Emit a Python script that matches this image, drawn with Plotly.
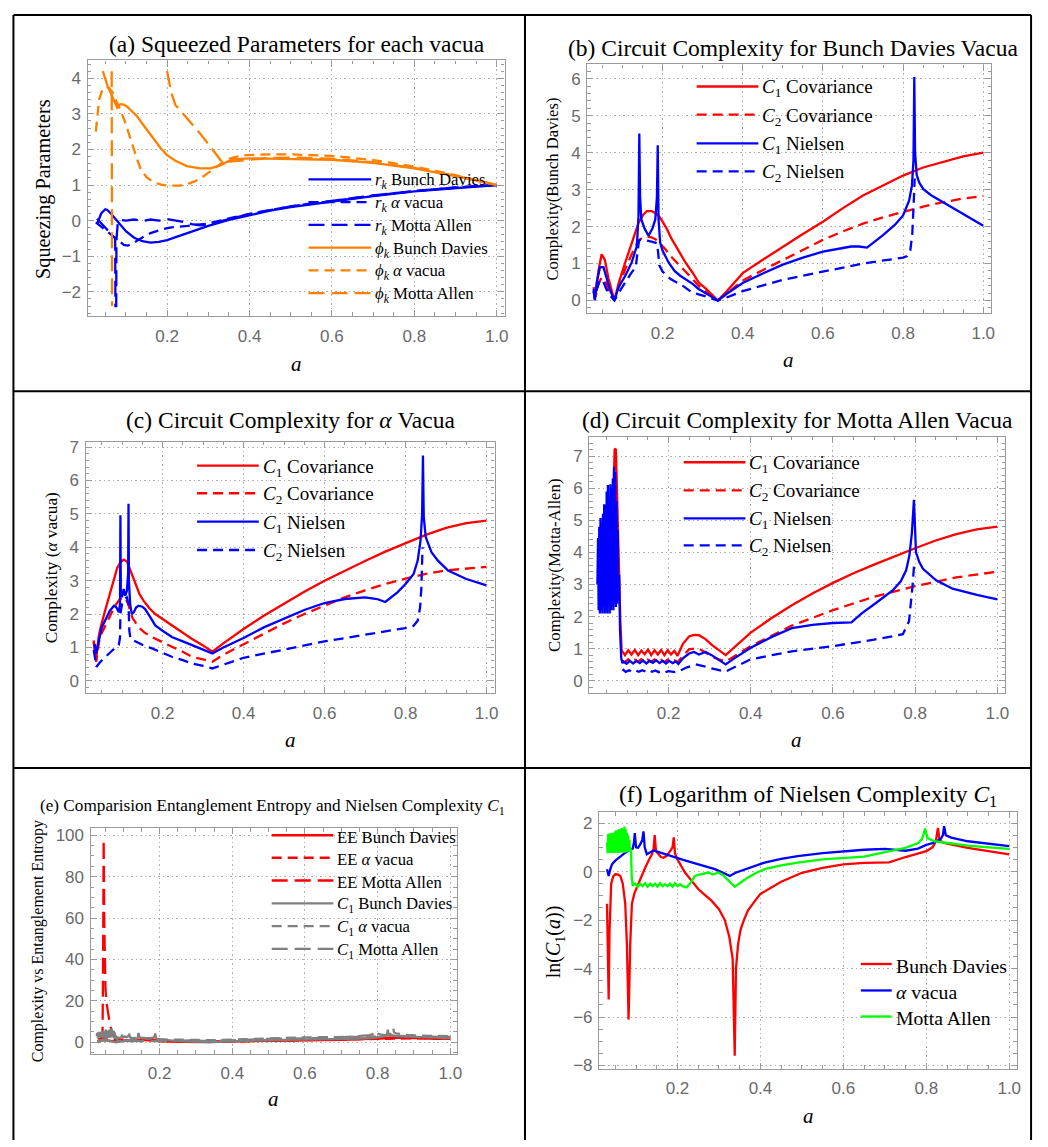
import plotly.graph_objects as go

W, H = 1048, 1147

# ---------------- DATA ----------------
# (a) squeezing parameters
a_rbd_x = [0.03, 0.04, 0.05, 0.055, 0.065, 0.08, 0.1, 0.12, 0.14, 0.16, 0.18, 0.2, 0.22, 0.25, 0.3, 0.35, 0.4, 0.45, 0.5, 0.6, 0.7, 0.8, 0.9, 1.0]
a_rbd_y = [-0.1, 0.2, 0.32, 0.3, 0.18, -0.02, -0.3, -0.48, -0.58, -0.62, -0.6, -0.55, -0.47, -0.35, -0.15, 0.02, 0.16, 0.28, 0.38, 0.54, 0.69, 0.82, 0.92, 1.0]
a_ral_x = [0.027, 0.04, 0.055, 0.07, 0.087, 0.095, 0.105, 0.12, 0.136, 0.16, 0.19, 0.21, 0.25, 0.3, 0.35, 0.4, 0.5, 0.6, 0.7, 0.8, 0.9, 1.0]
a_ral_y = [-0.05, -0.17, -0.3, -0.45, -0.6, -0.68, -0.7, -0.62, -0.5, -0.35, -0.24, -0.19, -0.15, -0.08, 0.06, 0.19, 0.4, 0.56, 0.7, 0.83, 0.93, 1.0]
a_rma_x = [0.03, 0.05, 0.07, 0.074, 0.0745, 0.0765, 0.077, 0.08, 0.085, 0.1, 0.12, 0.14, 0.16, 0.18, 0.2, 0.22, 0.24, 0.26, 0.28, 0.3, 0.35, 0.4, 0.5, 0.6, 0.7, 0.8, 0.9, 1.0]
a_rma_y = [0.05, -0.2, -0.45, -0.5, -2.4, -2.4, -0.55, -0.1, 0.02, 0.0, 0.03, -0.01, 0.03, 0.0, 0.04, 0.01, -0.04, -0.1, -0.13, -0.1, 0.05, 0.18, 0.4, 0.56, 0.71, 0.83, 0.93, 1.0]
a_pbd_x = [0.044, 0.05, 0.055, 0.067, 0.079, 0.087, 0.095, 0.103, 0.115, 0.128, 0.14, 0.148, 0.158, 0.168, 0.184, 0.2, 0.22, 0.248, 0.28, 0.305, 0.329, 0.345, 0.361, 0.4, 0.5, 0.6, 0.7, 0.8, 0.9, 1.0]
a_pbd_y = [4.2, 4.0, 3.8, 3.48, 3.17, 3.27, 3.26, 3.2, 3.07, 2.92, 2.72, 2.6, 2.44, 2.28, 2.04, 1.84, 1.68, 1.53, 1.47, 1.47, 1.55, 1.65, 1.72, 1.75, 1.74, 1.71, 1.62, 1.47, 1.25, 1.0]
a_pal_x = [0.027, 0.035, 0.043, 0.051, 0.058, 0.067, 0.075, 0.087, 0.1, 0.111, 0.125, 0.136, 0.15, 0.168, 0.19, 0.208, 0.23, 0.248, 0.27, 0.289, 0.305, 0.321, 0.345, 0.37, 0.393, 0.45, 0.5, 0.6, 0.7, 0.8, 0.9, 1.0]
a_pal_y = [2.5, 3.4, 3.68, 3.76, 3.74, 3.62, 3.4, 3.1, 2.7, 2.28, 1.8, 1.44, 1.22, 1.07, 1.0, 0.98, 0.98, 1.02, 1.12, 1.25, 1.38, 1.53, 1.72, 1.8, 1.84, 1.86, 1.86, 1.82, 1.7, 1.52, 1.28, 1.0]
a_pma_x = [0.0655, 0.0665, None, 0.2, 0.21, 0.22, 0.25, 0.28, 0.3, 0.32, 0.335, 0.35, 0.4, 0.45, 0.5, 0.6, 0.7, 0.8, 0.9, 1.0]
a_pma_y = [4.2, -2.4, None, 4.2, 3.6, 3.25, 2.85, 2.45, 2.15, 1.85, 1.62, 1.66, 1.72, 1.76, 1.77, 1.74, 1.64, 1.48, 1.26, 1.0]

# (b) Bunch Davies complexity
b_c1c_x = [0.028, 0.033, 0.04, 0.048, 0.056, 0.065, 0.08, 0.09, 0.107, 0.125, 0.14, 0.152, 0.161, 0.173, 0.185, 0.194, 0.21, 0.223, 0.24, 0.257, 0.275, 0.29, 0.31, 0.338, 0.36, 0.4, 0.45, 0.5, 0.55, 0.6, 0.65, 0.7, 0.75, 0.8, 0.85, 0.9, 0.95, 1.0]
b_c1c_y = [0.36, 0.15, 0.8, 1.25, 1.1, 0.6, 0.0, 0.45, 1.03, 1.6, 2.1, 2.32, 2.42, 2.42, 2.34, 2.24, 1.95, 1.66, 1.35, 1.03, 0.75, 0.49, 0.3, 0.0, 0.25, 0.74, 1.1, 1.46, 1.8, 2.13, 2.5, 2.84, 3.12, 3.38, 3.6, 3.75, 3.9, 4.0]
b_c2c_x = [0.028, 0.033, 0.04, 0.048, 0.056, 0.065, 0.08, 0.09, 0.107, 0.125, 0.14, 0.15, 0.161, 0.172, 0.182, 0.195, 0.207, 0.22, 0.24, 0.26, 0.29, 0.315, 0.338, 0.36, 0.4, 0.45, 0.5, 0.55, 0.6, 0.65, 0.7, 0.75, 0.8, 0.85, 0.9, 0.95, 1.0]
b_c2c_y = [0.26, 0.1, 0.45, 0.62, 0.55, 0.3, 0.0, 0.35, 0.85, 1.3, 1.62, 1.7, 1.73, 1.71, 1.66, 1.52, 1.39, 1.2, 0.98, 0.75, 0.4, 0.18, 0.0, 0.18, 0.54, 0.82, 1.1, 1.38, 1.64, 1.87, 2.08, 2.25, 2.4, 2.54, 2.66, 2.76, 2.83]
b_c1n_x = [0.028, 0.031, 0.036, 0.044, 0.0525, 0.06, 0.07, 0.08, 0.09, 0.107, 0.123, 0.136, 0.14, 0.142, 0.144, 0.147, 0.155, 0.165, 0.175, 0.182, 0.186, 0.188, 0.19, 0.194, 0.2, 0.215, 0.23, 0.244, 0.257, 0.275, 0.29, 0.315, 0.338, 0.36, 0.4, 0.45, 0.5, 0.55, 0.6, 0.65, 0.67, 0.69, 0.71, 0.75, 0.78, 0.8, 0.815, 0.822, 0.826, 0.828, 0.83, 0.834, 0.84, 0.85, 0.87, 0.9, 0.95, 1.0]
b_c1n_y = [0.31, 0.0, 0.5, 0.9, 0.9, 0.6, 0.25, 0.0, 0.35, 0.67, 1.03, 1.48, 2.3, 4.52, 2.8, 2.2, 1.95, 1.75, 1.95, 2.2, 2.8, 4.2, 2.2, 1.57, 1.35, 1.03, 0.8, 0.67, 0.58, 0.45, 0.31, 0.15, 0.0, 0.18, 0.47, 0.73, 0.97, 1.16, 1.32, 1.42, 1.46, 1.46, 1.43, 1.77, 2.05, 2.3, 2.7, 3.1, 3.8, 6.05, 4.0, 3.4, 3.2, 3.02, 2.85, 2.66, 2.35, 2.02]
b_c2n_x = [0.028, 0.031, 0.036, 0.044, 0.0525, 0.06, 0.07, 0.08, 0.09, 0.107, 0.123, 0.133, 0.138, 0.141, 0.144, 0.15, 0.16, 0.17, 0.18, 0.186, 0.189, 0.192, 0.2, 0.22, 0.25, 0.273, 0.31, 0.338, 0.36, 0.4, 0.5, 0.6, 0.7, 0.8, 0.81, 0.818, 0.823, 0.826, 0.829]
b_c2n_y = [0.25, 0.04, 0.3, 0.56, 0.5, 0.3, 0.12, 0.0, 0.2, 0.5, 0.76, 0.9, 1.3, 1.6, 1.64, 1.64, 1.62, 1.6, 1.58, 1.55, 1.3, 0.95, 0.78, 0.58, 0.4, 0.22, 0.1, 0.0, 0.08, 0.25, 0.56, 0.79, 1.0, 1.16, 1.2, 1.35, 1.8, 2.5, 3.3]

# (c) alpha vacua complexity
c_c1c_x = [0.03, 0.036, 0.042, 0.047, 0.057, 0.067, 0.078, 0.088, 0.096, 0.104, 0.112, 0.122, 0.133, 0.143, 0.153, 0.167, 0.182, 0.2, 0.223, 0.25, 0.272, 0.3, 0.323, 0.35, 0.4, 0.45, 0.5, 0.55, 0.6, 0.65, 0.7, 0.75, 0.8, 0.85, 0.9, 0.95, 1.0]
c_c1c_y = [1.21, 0.62, 1.3, 1.6, 2.05, 2.5, 2.95, 3.38, 3.55, 3.63, 3.58, 3.25, 2.89, 2.6, 2.4, 2.18, 2.0, 1.85, 1.66, 1.45, 1.26, 1.06, 0.87, 1.12, 1.55, 1.95, 2.31, 2.67, 3.0, 3.3, 3.59, 3.87, 4.13, 4.37, 4.58, 4.72, 4.8]
c_c2c_x = [0.03, 0.036, 0.045, 0.057, 0.07, 0.083, 0.095, 0.107, 0.115, 0.125, 0.141, 0.155, 0.174, 0.2, 0.223, 0.25, 0.272, 0.3, 0.323, 0.35, 0.4, 0.45, 0.5, 0.55, 0.6, 0.65, 0.7, 0.75, 0.8, 0.85, 0.9, 0.95, 1.0]
c_c2c_y = [1.16, 0.57, 1.31, 1.6, 1.9, 2.25, 2.45, 2.5, 2.3, 1.9, 1.6, 1.45, 1.31, 1.15, 1.02, 0.87, 0.72, 0.64, 0.57, 0.78, 1.1, 1.42, 1.72, 2.0, 2.26, 2.5, 2.71, 2.9, 3.06, 3.2, 3.31, 3.37, 3.41]
c_c1n_x = [0.03, 0.033, 0.036, 0.042, 0.05, 0.06, 0.07, 0.08, 0.086, 0.092, 0.095, 0.096, 0.097, 0.1, 0.104, 0.108, 0.112, 0.115, 0.116, 0.117, 0.12, 0.124, 0.129, 0.135, 0.141, 0.15, 0.157, 0.17, 0.182, 0.2, 0.223, 0.25, 0.272, 0.3, 0.323, 0.35, 0.4, 0.45, 0.5, 0.55, 0.6, 0.65, 0.7, 0.73, 0.75, 0.78, 0.8, 0.82, 0.83, 0.837, 0.841, 0.843, 0.845, 0.85, 0.864, 0.88, 0.905, 0.95, 1.0]
c_c1n_y = [1.1, 1.07, 0.82, 1.2, 1.6, 1.85, 2.1, 2.25, 2.2, 2.05, 2.3, 4.96, 2.7, 2.5, 2.75, 2.55, 2.7, 3.2, 5.3, 3.0, 2.3, 2.0, 2.05, 2.2, 2.25, 2.22, 2.15, 1.9, 1.66, 1.5, 1.31, 1.18, 1.07, 0.95, 0.82, 1.0, 1.28, 1.6, 1.87, 2.12, 2.33, 2.45, 2.5, 2.45, 2.36, 2.65, 2.9, 3.2, 3.6, 4.2, 5.0, 6.75, 4.9, 4.3, 3.85, 3.6, 3.3, 3.05, 2.86]
c_c2n_x = [0.03, 0.037, 0.045, 0.059, 0.075, 0.092, 0.095, 0.096, 0.1, 0.106, 0.112, 0.116, 0.118, 0.121, 0.129, 0.15, 0.174, 0.2, 0.223, 0.25, 0.272, 0.3, 0.323, 0.4, 0.5, 0.6, 0.7, 0.8, 0.82, 0.83, 0.836, 0.839, 0.842]
c_c2n_y = [0.92, 0.42, 0.55, 0.72, 0.9, 1.07, 1.3, 2.0, 2.3, 2.45, 2.5, 2.3, 1.5, 1.25, 1.2, 1.08, 0.97, 0.85, 0.72, 0.62, 0.52, 0.45, 0.37, 0.69, 0.93, 1.18, 1.38, 1.58, 1.65, 1.8, 2.2, 2.76, 4.0]

# (d) Motta Allen complexity
d_c1c_x = [0.064, 0.067, 0.069, 0.072, 0.074, 0.077, 0.08, 0.083, 0.086, 0.094, 0.102, 0.11, 0.118, 0.126, 0.134, 0.142, 0.15, 0.158, 0.166, 0.174, 0.182, 0.19, 0.198, 0.206, 0.214, 0.222, 0.235, 0.25, 0.262, 0.274, 0.29, 0.306, 0.322, 0.339, 0.4, 0.45, 0.5, 0.55, 0.6, 0.65, 0.7, 0.75, 0.8, 0.85, 0.9, 0.95, 1.0]
d_c1c_y = [5.0, 6.5, 7.23, 7.2, 6.0, 4.6, 3.27, 1.8, 0.95, 0.8, 0.95, 0.82, 0.96, 0.8, 0.94, 0.83, 0.97, 0.8, 0.95, 0.82, 0.96, 0.8, 0.95, 0.82, 0.93, 0.78, 1.15, 1.38, 1.43, 1.42, 1.3, 1.11, 0.95, 0.8, 1.5, 1.95, 2.35, 2.72, 3.05, 3.35, 3.62, 3.88, 4.13, 4.37, 4.57, 4.72, 4.8]
d_c2c_x = [0.086, 0.094, 0.102, 0.11, 0.118, 0.126, 0.134, 0.142, 0.15, 0.158, 0.166, 0.174, 0.182, 0.19, 0.198, 0.206, 0.214, 0.222, 0.24, 0.25, 0.262, 0.274, 0.29, 0.306, 0.322, 0.339, 0.4, 0.5, 0.6, 0.7, 0.8, 0.9, 1.0]
d_c2c_y = [0.62, 0.58, 0.67, 0.58, 0.66, 0.6, 0.67, 0.58, 0.66, 0.59, 0.67, 0.6, 0.65, 0.58, 0.66, 0.6, 0.64, 0.58, 0.85, 0.98, 1.0, 1.0, 0.88, 0.75, 0.67, 0.6, 1.08, 1.72, 2.2, 2.62, 2.95, 3.22, 3.4]
d_c1n_x = [0.027, 0.0285, 0.030, 0.0315, 0.033, 0.0345, 0.036, 0.0375, 0.039, 0.0405, 0.042, 0.0435, 0.045, 0.0465, 0.048, 0.0495, 0.051, 0.0525, 0.054, 0.0555, 0.057, 0.0585, 0.060, 0.0615, 0.063, 0.0645, 0.066, 0.0675, 0.069, 0.0705, 0.072, 0.0735, 0.075, 0.0765, 0.078,
           0.080, 0.082, 0.085, 0.088, 0.09, 0.098, 0.106, 0.114, 0.122, 0.13, 0.138, 0.146, 0.154, 0.162, 0.17, 0.178, 0.186, 0.194, 0.202, 0.21, 0.218, 0.224,
           0.235, 0.25, 0.262, 0.274, 0.29, 0.305, 0.32, 0.339, 0.36, 0.4, 0.45, 0.5, 0.55, 0.6, 0.645, 0.67, 0.698, 0.746, 0.765, 0.778, 0.786, 0.792, 0.797, 0.802, 0.81, 0.819, 0.851, 0.891, 0.95, 1.0]
d_c1n_y = [3.0, 4.45, 2.2, 4.8, 2.1, 5.07, 2.2, 4.9, 2.1, 5.2, 2.3, 5.5, 2.1, 5.45, 2.2, 5.9, 2.1, 6.1, 2.3, 5.6, 2.1, 6.12, 2.2, 6.0, 2.3, 6.3, 2.2, 6.67, 2.4, 6.5, 2.3, 5.6, 2.4, 4.7, 2.5,
           3.3, 1.6, 0.7, 0.55, 0.6, 0.53, 0.62, 0.54, 0.62, 0.55, 0.63, 0.54, 0.62, 0.56, 0.64, 0.55, 0.62, 0.54, 0.62, 0.55, 0.6, 0.52,
           0.7, 0.85, 0.9, 0.82, 0.9, 0.8, 0.67, 0.51, 0.7, 1.03, 1.36, 1.64, 1.74, 1.8, 1.82, 2.1, 2.36, 2.82, 3.1, 3.44, 3.9, 4.6, 5.64, 4.0, 3.7, 3.49, 3.13, 2.87, 2.68, 2.54]
d_c2n_x = [0.088, 0.096, 0.104, 0.112, 0.12, 0.128, 0.136, 0.144, 0.152, 0.16, 0.168, 0.176, 0.184, 0.192, 0.2, 0.208, 0.216, 0.225, 0.245, 0.266, 0.28, 0.29, 0.31, 0.339, 0.4, 0.5, 0.6, 0.7, 0.77, 0.785, 0.793, 0.798]
d_c2n_y = [0.36, 0.28, 0.33, 0.27, 0.32, 0.28, 0.33, 0.29, 0.34, 0.28, 0.32, 0.27, 0.31, 0.27, 0.3, 0.28, 0.27, 0.3, 0.42, 0.51, 0.48, 0.44, 0.37, 0.29, 0.67, 0.92, 1.08, 1.28, 1.45, 1.85, 2.87, 3.7]

# (e) entanglement entropy vs Nielsen complexity
e_ebd_x = [0.03, 0.05, 0.08, 0.1, 0.15, 0.2, 0.3, 0.4, 0.5, 0.6, 0.7, 0.8, 0.85, 0.9, 1.0]
e_ebd_y = [0.5, 1.0, 0.3, 0.8, 1.2, 0.6, 0.1, 0.3, 0.6, 0.9, 1.2, 1.8, 2.3, 2.0, 1.6]
e_eal_x = [0.03, 0.05, 0.08, 0.1, 0.15, 0.17, 0.2, 0.3, 0.4, 0.5, 0.6, 0.7, 0.8, 0.85, 0.9, 1.0]
e_eal_y = [1.5, 2.0, 1.0, 1.3, 1.0, 1.8, 0.6, 0.2, 0.5, 0.8, 1.0, 1.3, 1.7, 2.0, 1.9, 1.7]
e_ema_x = [0.03, 0.035, 0.04, 0.043, 0.0445, 0.046, 0.0475, 0.049, 0.051, 0.054, 0.058, 0.062, 0.067, 0.072, 0.08, 0.09, 0.1, 0.12, 0.14, 0.16, 0.17, 0.18, 0.2, 0.25, 0.3, 0.4, 0.5, 0.6, 0.7, 0.8, 0.85, 0.9, 1.0]
e_ema_y = [0.5, 1.2, 2.5, 5.0, 40.0, 98.0, 60.0, 34.0, 26.0, 19.0, 14.0, 10.0, 6.0, 3.5, 2.0, 1.2, 1.0, 0.8, 0.9, 1.5, 1.8, 1.2, 0.6, 0.3, 0.2, 0.4, 0.7, 1.0, 1.3, 1.9, 2.3, 2.0, 1.7]

# (f) log of Nielsen complexity C1
f_bd_x = [0.03, 0.032, 0.034, 0.036, 0.04, 0.045, 0.05, 0.056, 0.062, 0.068, 0.074, 0.078, 0.082, 0.086, 0.09, 0.096, 0.102, 0.11, 0.122, 0.13, 0.138, 0.142, 0.145, 0.148, 0.152, 0.16, 0.166, 0.174, 0.182, 0.188, 0.191, 0.194, 0.2, 0.218, 0.235, 0.25, 0.265, 0.282, 0.3, 0.314, 0.325, 0.333, 0.338, 0.341, 0.346, 0.352, 0.36, 0.37, 0.385, 0.4, 0.45, 0.5, 0.55, 0.6, 0.65, 0.71, 0.75, 0.8, 0.815, 0.823, 0.828, 0.832, 0.84, 0.85, 0.9, 0.95, 1.0]
f_bd_y = [-1.33, -3.5, -5.28, -2.5, -0.5, -0.2, -0.11, -0.12, -0.18, -0.5, -1.33, -3.0, -6.1, -3.0, -1.33, -0.9, -0.65, -0.3, 0.16, 0.45, 0.7, 0.9, 1.5, 0.85, 0.75, 0.6, 0.57, 0.65, 0.84, 1.0, 1.41, 0.75, 0.5, -0.04, -0.4, -0.72, -0.95, -1.2, -1.55, -2.0, -2.7, -3.6, -7.6, -4.0, -3.0, -2.4, -2.0, -1.6, -1.25, -0.92, -0.42, -0.05, 0.15, 0.3, 0.36, 0.38, 0.6, 0.84, 1.0, 1.25, 1.8, 1.3, 1.2, 1.15, 0.98, 0.85, 0.71]
f_al_x = [0.03, 0.034, 0.038, 0.042, 0.05, 0.058, 0.066, 0.074, 0.086, 0.092, 0.095, 0.097, 0.1, 0.105, 0.11, 0.115, 0.118, 0.121, 0.126, 0.134, 0.142, 0.155, 0.17, 0.19, 0.21, 0.23, 0.25, 0.27, 0.29, 0.31, 0.326, 0.34, 0.354, 0.38, 0.41, 0.45, 0.49, 0.55, 0.6, 0.65, 0.7, 0.75, 0.78, 0.8, 0.82, 0.835, 0.84, 0.843, 0.847, 0.86, 0.9, 0.95, 1.0]
f_al_y = [0.1, -0.18, 0.1, 0.3, 0.45, 0.57, 0.68, 0.78, 0.91, 0.95, 1.2, 1.59, 1.0, 0.98, 1.12, 1.3, 1.66, 1.0, 0.71, 0.8, 0.87, 0.8, 0.71, 0.6, 0.5, 0.4, 0.3, 0.2, 0.1, -0.05, -0.18, -0.05, 0.03, 0.2, 0.37, 0.52, 0.64, 0.76, 0.84, 0.9, 0.94, 0.86, 0.95, 1.1, 1.2, 1.35, 1.5, 1.87, 1.5, 1.4, 1.25, 1.15, 1.05]
f_ma_x = [0.0300, 0.0315, 0.0330, 0.0345, 0.0360, 0.0375, 0.0390, 0.0405, 0.0420, 0.0435, 0.0450, 0.0465, 0.0480, 0.0495, 0.0510, 0.0525, 0.0540, 0.0555, 0.0570, 0.0585, 0.0600, 0.0615, 0.0630, 0.0645, 0.0660, 0.0675, 0.0690, 0.0705, 0.0720, 0.0735, 0.0750, 0.0765, 0.0780, 0.0795, 0.0810, 0.0825, 0.0840, 0.0855,
          0.088, 0.0895, 0.092, 0.098, 0.104, 0.11, 0.116, 0.122, 0.128, 0.134, 0.14, 0.146, 0.152, 0.158, 0.164, 0.17, 0.176, 0.182, 0.188, 0.194, 0.2, 0.206, 0.212, 0.222,
          0.232, 0.242, 0.25, 0.258, 0.266, 0.274, 0.286, 0.298, 0.31, 0.325, 0.338, 0.355, 0.37, 0.39, 0.41, 0.45, 0.49, 0.55, 0.6, 0.65, 0.7, 0.75, 0.78, 0.79, 0.797, 0.803, 0.82, 0.86, 0.9, 0.95, 1.0]
f_ma_y = [1.2, 0.76, 1.55, 0.78, 1.58, 0.77, 1.45, 0.8, 1.6, 0.76, 1.5, 0.79, 1.62, 0.77, 1.7, 0.8, 1.55, 0.78, 1.72, 0.77, 1.75, 0.8, 1.65, 0.78, 1.8, 0.79, 1.7, 0.8, 1.86, 0.78, 1.75, 0.82, 1.6, 0.8, 1.5, 0.85, 1.3, 0.9,
          0.9, -0.2, -0.58, -0.5, -0.62, -0.5, -0.6, -0.48, -0.62, -0.5, -0.6, -0.5, -0.62, -0.48, -0.6, -0.52, -0.6, -0.5, -0.62, -0.48, -0.6, -0.52, -0.6, -0.65,
          -0.45, -0.18, -0.14, -0.11, -0.08, -0.04, -0.12, -0.04, -0.15, -0.4, -0.63, -0.42, -0.24, -0.05, 0.1, 0.26, 0.37, 0.5, 0.57, 0.62, 0.8, 0.98, 1.18, 1.35, 1.77, 1.38, 1.25, 1.15, 1.07, 1.0, 0.94]

# ---------------- STYLE ----------------
BLUE, RED, ORANGE, GREEN, GRAY = "#0000FF", "#FF0000", "#FF8000", "#00FF00", "#808080"
SOLID, SHORT, LONG = "solid", "10px,6px", "16px,7px"
LW = 2.3
SERIF = "Liberation Serif"
SANS = "Liberation Sans"
FRAME = "#9a9a9a"

fig = go.Figure()

def tr(xs, ys, color, dash, k):
    sfx = "" if k == 1 else str(k)
    fig.add_trace(go.Scatter(x=xs, y=ys, mode="lines", showlegend=False,
                             line=dict(color=color, dash=dash, width=LW),
                             xaxis="x" + sfx, yaxis="y" + sfx, hoverinfo="skip"))

# (a)
tr(a_rbd_x, a_rbd_y, BLUE, SOLID, 1)
tr(a_ral_x, a_ral_y, BLUE, SHORT, 1)
tr(a_rma_x, a_rma_y, BLUE, LONG, 1)
tr(a_pbd_x, a_pbd_y, ORANGE, SOLID, 1)
tr(a_pal_x, a_pal_y, ORANGE, SHORT, 1)
tr(a_pma_x, a_pma_y, ORANGE, LONG, 1)
# (b)
tr(b_c1c_x, b_c1c_y, RED, SOLID, 2)
tr(b_c2c_x, b_c2c_y, RED, SHORT, 2)
tr(b_c1n_x, b_c1n_y, BLUE, SOLID, 2)
tr(b_c2n_x, b_c2n_y, BLUE, SHORT, 2)
# (c)
tr(c_c1c_x, c_c1c_y, RED, SOLID, 3)
tr(c_c2c_x, c_c2c_y, RED, SHORT, 3)
tr(c_c1n_x, c_c1n_y, BLUE, SOLID, 3)
tr(c_c2n_x, c_c2n_y, BLUE, SHORT, 3)
# (d)
tr(d_c1c_x, d_c1c_y, RED, SOLID, 4)
tr(d_c2c_x, d_c2c_y, RED, SHORT, 4)
tr(d_c1n_x, d_c1n_y, BLUE, SOLID, 4)
tr(d_c2n_x, d_c2n_y, BLUE, SHORT, 4)
# (e)
tr(e_ebd_x, e_ebd_y, RED, SOLID, 5)
tr(e_eal_x, e_eal_y, RED, SHORT, 5)
tr(e_ema_x, e_ema_y, RED, LONG, 5)
tr(b_c1n_x, b_c1n_y, GRAY, SOLID, 5)
tr(c_c1n_x, c_c1n_y, GRAY, SHORT, 5)
tr(d_c1n_x, d_c1n_y, GRAY, LONG, 5)
# (f)
tr(f_bd_x, f_bd_y, RED, SOLID, 6)
tr(f_al_x, f_al_y, BLUE, SOLID, 6)
tr(f_ma_x, f_ma_y, GREEN, SOLID, 6)

# panel geometry in pixels: (x0, x1, ytop, ybottom), x range, y range, y dtick, y minor
panels = [
    ((88, 507, 57, 315), [0.007, 1.019], [-2.68, 4.5], 1, 0.2),
    ((590, 996, 61, 312), [0.012, 1.02], [-0.34, 6.39], 1, 0.2),
    ((86, 497, 442, 696), [0.01, 1.02], [-0.375, 7.16], 1, 0.2),
    ((592, 1010, 437, 696), [0.007, 1.019], [-0.39, 7.6], 1, 0.2),
    ((91, 459, 832, 1060), [0.01, 1.018], [-5.6, 103.5], 20, 5),
    ((602, 1022, 816, 1075), [0.011, 1.019], [-8.13, 2.45], 2, 0.5),
]

layout = dict(width=W, height=H, margin=dict(l=0, r=0, t=0, b=0),
              paper_bgcolor="white", plot_bgcolor="white", showlegend=False)

common = dict(showline=True, linecolor=FRAME, linewidth=1.3, mirror="ticks",
              ticks="inside", ticklen=6, tickwidth=1, tickcolor=FRAME,
              showgrid=True, gridcolor="#b0b0b0", griddash="1.5px,3px", gridwidth=1,
              zeroline=False, tickfont=dict(family=SANS, size=17, color="#6a6a6a"))

for i, (g, xr, yr, ydt, ymin) in enumerate(panels, start=1):
    x0, x1, yt, yb = g
    sfx = "" if i == 1 else str(i)
    layout["xaxis" + sfx] = dict(common, domain=[x0 / W, x1 / W], range=xr,
                                 anchor="y" + sfx, dtick=0.2, tick0=0, tickformat=".1f",
                                 ticklabelstandoff=4,
                                 minor=dict(dtick=0.05, tick0=0, ticks="inside", ticklen=3.5,
                                            tickcolor=FRAME, showgrid=False))
    layout["yaxis" + sfx] = dict(common, domain=[1 - yb / H, 1 - yt / H], range=yr,
                                 anchor="x" + sfx, dtick=ydt, tick0=0, ticklabelstandoff=2,
                                 minor=dict(dtick=ymin, tick0=0, ticks="inside", ticklen=3.5,
                                            tickcolor=FRAME, showgrid=False))

fig.update_layout(**layout)

def px(x): return x / W
def py(y): return 1 - y / H

ann = []
def text(x, y, s, size, angle=0, xanchor="center", family=SERIF):
    ann.append(dict(x=px(x), y=py(y), xref="paper", yref="paper", text=s, showarrow=False,
                    xanchor=xanchor, yanchor="middle", textangle=angle,
                    font=dict(family=family, size=size, color="black")))

# titles
text(298.5, 40, "(a) Squeezed Parameters for each vacua", 23.5)
text(797, 44, "(b) Circuit Complexity for Bunch Davies Vacua", 23.5)
text(292, 420.5, "(c) Circuit Complexity for <i>α</i> Vacua", 23.5)
text(801.5, 420, "(d) Circuit Complexity for Motta Allen Vacua", 23.5)
text(274, 810.5, "(e) Comparision Entanglement Entropy and Nielsen Complexity <i>C</i><sub>1</sub>", 17.2)
text(811.5, 800, "(f) Logarithm of Nielsen Complexity <i>C</i><sub>1</sub>", 23.5)

# axis titles
text(43, 187, "Squeezing Parameters", 20.3, angle=-90)
text(555, 187, "Complexity(Bunch Davies)", 16.6, angle=-90)
text(52, 569, "Complexity (<i>α</i> vacua)", 17.3, angle=-90)
text(557, 567, "Complexity(Motta-Allen)", 16.8, angle=-90)
text(38.5, 946, "Complexity vs Entanglement Entropy", 16, angle=-90)
text(558, 947, "ln(<i>C</i><sub>1</sub>(<i>a</i>))", 20, angle=-90)
for (xx, yy) in [(298, 363), (792, 359), (291.7, 743), (800.7, 743), (275, 1106), (812, 1123)]:
    text(xx, yy, "<i>a</i>", 21)

shapes = []
def legend(x0, x1, rows, items, size):
    for ypx, (color, dash, label) in zip(rows, items):
        shapes.append(dict(type="line", xref="paper", yref="paper", x0=px(x0), x1=px(x1),
                           y0=py(ypx), y1=py(ypx), line=dict(color=color, dash=dash, width=LW)))
        text(x1 + 2, ypx + 2, label, size, xanchor="left")

rk = "<i>r</i><sub><i>k</i></sub>"
ph = "<i>ϕ</i><sub><i>k</i></sub>"
C1 = "<i>C</i><sub>1</sub>"
C2 = "<i>C</i><sub>2</sub>"
legend(310, 373, [177, 200, 223, 246, 269, 292],
       [(BLUE, SOLID, rk + " Bunch Davies"), (BLUE, SHORT, rk + " <i>α</i> vacua"),
        (BLUE, LONG, rk + " Motta Allen"), (ORANGE, SOLID, ph + " Bunch Davies"),
        (ORANGE, SHORT, ph + " <i>α</i> vacua"), (ORANGE, LONG, ph + " Motta Allen")], 16.8)
cc_items = [(RED, SOLID, C1 + " Covariance"), (RED, SHORT, C2 + " Covariance"),
            (BLUE, SOLID, C1 + " Nielsen"), (BLUE, SHORT, C2 + " Nielsen")]
legend(700, 762, [83.3, 111.7, 140.7, 169], cc_items, 19)
legend(198, 260, [466, 494, 522.7, 551.3], cc_items, 19)
legend(687, 749, [462.7, 491, 519.3, 546.7], cc_items, 19)
legend(273, 335, [839.3, 862, 885, 908, 931, 954],
       [(RED, SOLID, "EE Bunch Davies"), (RED, SHORT, "EE <i>α</i> vacua"),
        (RED, LONG, "EE Motta Allen"), (GRAY, SOLID, C1 + " Bunch Davies"),
        (GRAY, SHORT, C1 + " <i>α</i> vacua"), (GRAY, LONG, C1 + " Motta Allen")], 16.7)
legend(865, 896, [969.3, 996, 1022.3],
       [(RED, SOLID, "Bunch Davies"), (BLUE, SOLID, "<i>α</i> vacua"),
        (GREEN, SOLID, "Motta Allen")], 19.7)

# panel frame lines
for (xa, ya, xb, yb) in [(13.5, 11, 1036, 11), (13.5, 11, 13.5, H), (1036, 11, 1036, H),
                         (527.5, 11, 527.5, H), (13.5, 391, 1036, 391), (13.5, 771.5, 1036, 771.5)]:
    shapes.append(dict(type="line", xref="paper", yref="paper", x0=px(xa), x1=px(xb),
                       y0=py(ya), y1=py(yb), line=dict(color="black", width=2)))

fig.update_layout(annotations=ann, shapes=shapes)
fig.write_html("out.html")
